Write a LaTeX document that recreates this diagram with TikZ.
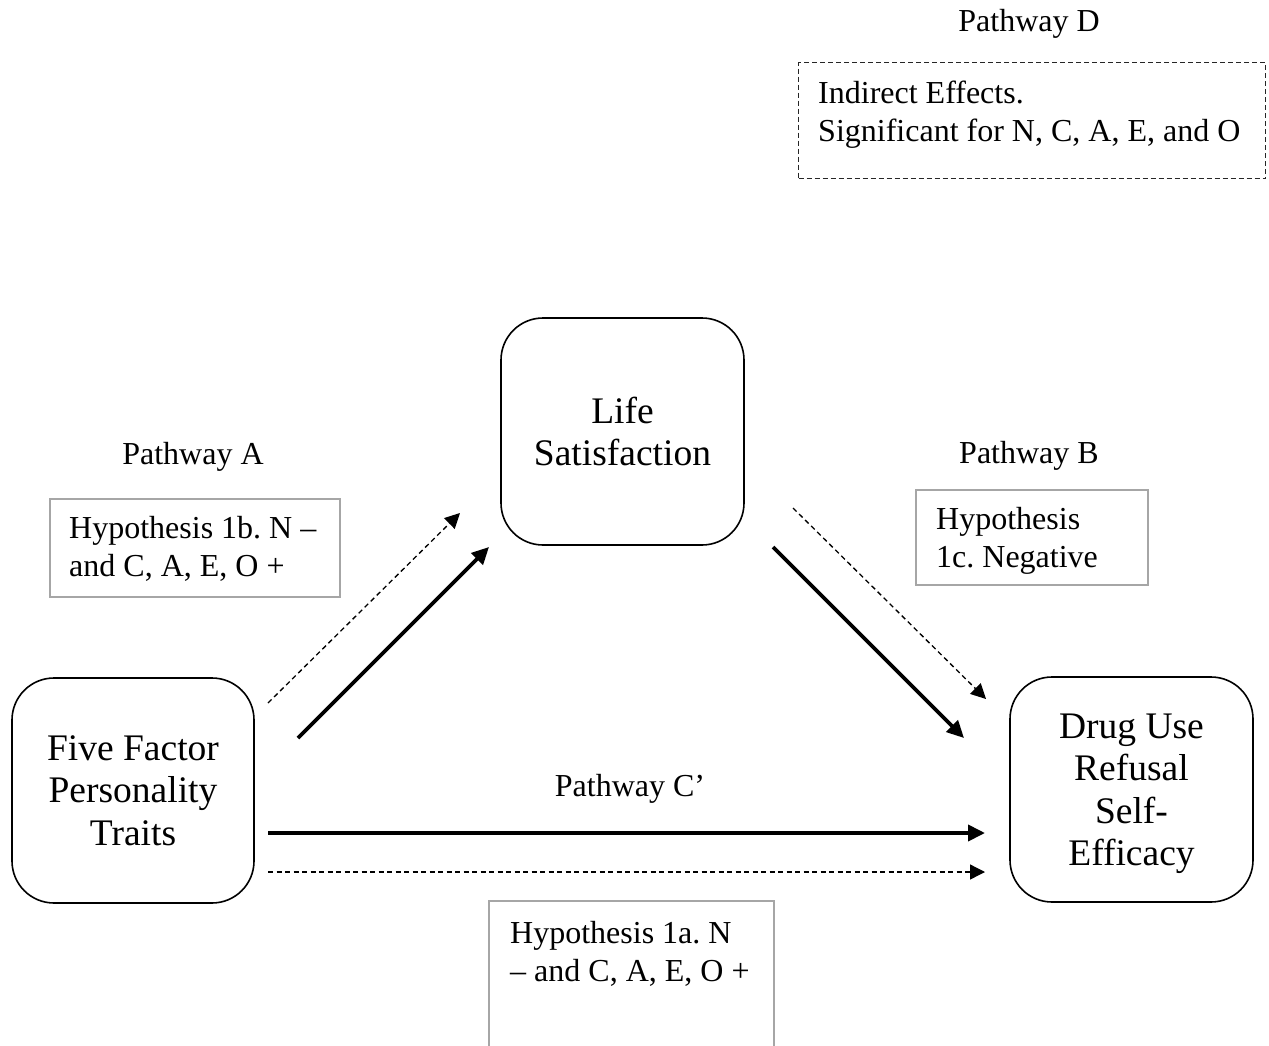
\documentclass[tikz,border=0pt]{standalone}
\usepackage{fontspec}
\setmainfont{Liberation Serif}
\usetikzlibrary{arrows.meta}
\definecolor{boxgray}{HTML}{A6A6A6}
\frenchspacing
\begin{document}
\begin{tikzpicture}[x=1pt,y=-1pt,
  bigbox/.style={draw, line width=1.6pt, rounded corners=42pt, minimum width=242pt, minimum height=226pt, align=center, font=\fontsize{37.5}{42.5}\selectfont, inner sep=0pt},
  hypbox/.style={draw=boxgray, line width=2.4pt, anchor=north west, inner sep=0pt},
  dbox/.style={draw=black!85, line width=1.2pt, dash pattern=on 5pt off 3pt, anchor=north west, inner sep=0pt},
  hyptext/.style={anchor=north west, align=left, inner sep=0pt, font=\fontsize{32}{38}\selectfont},
  lbl/.style={anchor=base, inner sep=0pt, font=\fontsize{32}{37}\selectfont},
  solidarrow/.style={line width=3.8pt, -{Triangle[length=17pt,width=16pt]}},
  dasharrow/.style={line width=1.3pt, dash pattern=on 5pt off 3.5pt, -{Triangle[length=15pt,width=15pt]}},
]
\useasboundingbox (0,0) rectangle (1269,1046);

% main boxes
\node[bigbox, minimum width=242pt, minimum height=225pt] (ff) at (133,790.5) {Five Factor\\Personality\\Traits};
\node[bigbox, minimum width=243pt, minimum height=227pt] (ls) at (622.5,431.5) {Life\\Satisfaction};
\node[bigbox, minimum width=243pt, minimum height=225pt, text depth=0pt] (du) at (1131.5,789.5) {Drug Use\\Refusal\\Self-\\Efficacy};

% pathway labels
\node[lbl] (pa) at (193,464) {Pathway A};
\node[lbl] (pb) at (1029,463) {Pathway B};
\node[lbl] (pc) at (630,796) {Pathway C’};
\node[lbl] (pd) at (1029,32) {Pathway D};

% hypothesis boxes
\node[dbox, minimum width=467pt, minimum height=116pt] (boxd) at (798,62) {};
\node[hyptext] (textd) at (818,81) {Indirect Effects.\\Significant for N, C, A, E, and O};

\node[hypbox, minimum width=290pt, minimum height=98pt] (boxa) at (49,498) {};
\node[hyptext] (texta) at (69,516) {Hypothesis 1b. N –\\and C, A, E, O +};

\node[hypbox, minimum width=232pt, minimum height=95pt] (boxb) at (915,489) {};
\node[hyptext] (textb) at (936,507) {Hypothesis\\1c. Negative};

\node[hypbox, minimum width=285pt, minimum height=170pt] (boxc) at (488,900) {};
\node[hyptext] (textc) at (510,921) {Hypothesis 1a. N\\– and C, A, E, O +};

% connector end points
\coordinate (adS) at (268,703);
\coordinate (adE) at (460,513);
\coordinate (asS) at (298,738);
\coordinate (asE) at (489,547);
\coordinate (bdS) at (793,508);
\coordinate (bdE) at (986,699);
\coordinate (bsS) at (773,547);
\coordinate (bsE) at (964,738);
\coordinate (csS) at (268,833);
\coordinate (csE) at (985,833);
\coordinate (cdS) at (268,872);
\coordinate (cdE) at (985,872);

\draw[dasharrow] (adS) -- (adE);
\draw[solidarrow] (asS) -- (asE);
\draw[dasharrow] (bdS) -- (bdE);
\draw[solidarrow] (bsS) -- (bsE);
\draw[solidarrow] (csS) -- (csE);
\draw[dasharrow] (cdS) -- (cdE);
\end{tikzpicture}
\end{document}
